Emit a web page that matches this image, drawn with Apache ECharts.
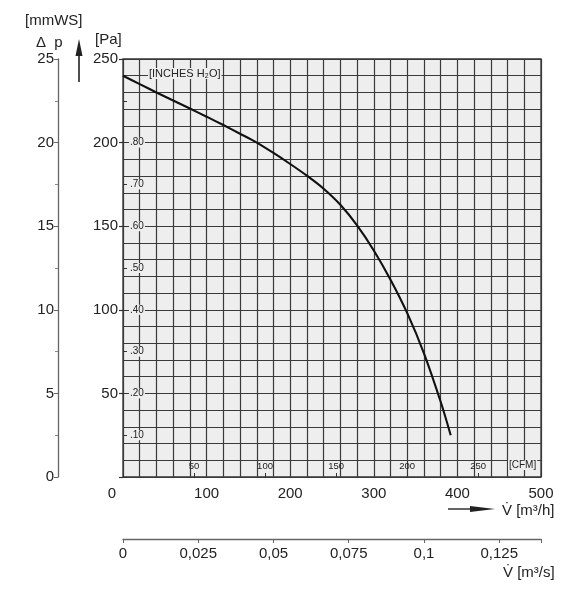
<!DOCTYPE html>
<html>
<head>
<meta charset="utf-8">
<script src="https://cdn.jsdelivr.net/npm/echarts@6/dist/echarts.min.js"></script>
<style>
html,body{margin:0;padding:0;background:#fff;}
#chart{width:583px;height:600px;}
</style>
</head>
<body>
<div id="chart"></div>
<script>
// ---- data ----
const flowM3h    = [0, 20, 40, 60, 80, 100, 120, 140, 160, 180, 200, 220, 240, 260, 280, 300, 320, 340, 360, 380, 392];
const pressurePa = [240, 235, 230, 225.2, 220.4, 215.5, 210.5, 205.3, 200, 193.8, 187.2, 180.2, 172.4, 162.8, 150.5, 135.5, 118, 98, 74, 45, 25];

const m3hTicks  = [0, 100, 200, 300, 400, 500];
const paTicks   = [50, 100, 150, 200, 250];
const mmwsTicks = [0, 5, 10, 15, 20, 25];
const inchValuesPa = [25, 50, 75, 100, 125, 150, 175, 200];
const inchLabels   = ['.10', '.20', '.30', '.40', '.50', '.60', '.70', '.80'];
const cfmTicks  = [50, 100, 150, 200, 250];
const m3sLabels = ['0', '0,025', '0,05', '0,075', '0,1', '0,125'];

const M3H_PER_CFM = 1.699;
const FONT = "'Liberation Sans', Arial, sans-serif";
const INK = '#222';
const GRIDLINE = { color: '#3a3a3a', width: 1.2 };
const PLOTBG = '#eeeeee';

const chart = echarts.init(document.getElementById('chart'), null, { renderer: 'canvas' });

const option = {
  backgroundColor: '#fff',
  animation: false,
  textStyle: { fontFamily: FONT, color: INK },
  grid: {
    left: 123, top: 59, width: 418, height: 418,
    show: true, backgroundColor: PLOTBG, borderColor: '#333', borderWidth: 1.3
  },
  xAxis: [
    { // m3/h main axis
      type: 'value', min: 0, max: 500, interval: 100, position: 'bottom',
      axisLine: { show: false, onZero: false }, axisTick: { show: false },
      axisLabel: {
        margin: 9, fontSize: 15, color: INK, fontFamily: FONT,
        formatter: v => v === 0 ? '{z|0}' : (m3hTicks.includes(v) ? String(v) : ''),
        rich: { z: { fontSize: 15, fontFamily: FONT, color: INK, padding: [0, 22, 0, 0] } }
      },
      splitLine: { show: true, lineStyle: GRIDLINE },
      minorTick: { show: false, splitNumber: 5 },
      minorSplitLine: { show: true, lineStyle: GRIDLINE }
    },
    { // CFM inside scale
      type: 'value', min: 0, max: 500 / M3H_PER_CFM, interval: 50, position: 'bottom', offset: 0,
      axisLine: { show: false, onZero: false },
      axisTick: { show: true, inside: true, length: 4, lineStyle: { color: '#333', width: 1 } },
      axisLabel: {
        inside: true, margin: 6, fontSize: 9.5, color: INK, fontFamily: FONT,
        formatter: v => cfmTicks.includes(Math.round(v)) && Math.abs(v - Math.round(v)) < 1e-6 ? String(Math.round(v)) : ''
      },
      splitLine: { show: false }
    },
    { // m3/s scale
      type: 'value', min: 0, max: 500 / 3600, interval: 0.025, position: 'bottom', offset: 62,
      axisLine: { show: true, onZero: false, lineStyle: { color: '#666', width: 1.3 } },
      axisTick: { show: true, length: 4, lineStyle: { color: '#666', width: 1 } },
      axisLabel: {
        margin: 7, fontSize: 15, color: INK, fontFamily: FONT,
        formatter: v => {
          const k = Math.round(v / 0.025);
          return Math.abs(v - k * 0.025) < 1e-9 && k < m3sLabels.length ? m3sLabels[k] : '';
        }
      },
      splitLine: { show: false }
    }
  ],
  yAxis: [
    { // Pa
      type: 'value', min: 0, max: 250, interval: 50, position: 'left',
      axisLine: { show: false, onZero: false },
      axisTick: { show: true, length: 4, lineStyle: { color: '#333', width: 1.2 } },
      axisLabel: {
        margin: 5, fontSize: 15, color: INK, fontFamily: FONT,
        formatter: v => paTicks.includes(v) ? String(v) : ''
      },
      splitLine: { show: true, lineStyle: GRIDLINE },
      minorTick: { show: false, splitNumber: 5 },
      minorSplitLine: { show: true, lineStyle: GRIDLINE }
    },
    { // mmWS
      type: 'value', min: 0, max: 25, interval: 5, position: 'left', offset: 65,
      axisLine: { show: true, onZero: false, lineStyle: { color: '#666', width: 1.3 } },
      axisTick: { show: true, length: 4, lineStyle: { color: '#666', width: 1 } },
      minorTick: { show: true, splitNumber: 2, length: 3, lineStyle: { color: '#888', width: 1 } },
      axisLabel: {
        margin: 4, fontSize: 15, color: INK, fontFamily: FONT,
        formatter: v => mmwsTicks.includes(v) ? String(v) : ''
      },
      splitLine: { show: false }
    },
    { // inches H2O (inside)
      type: 'value', min: 0, max: 250, interval: 25, position: 'left', offset: 0,
      axisLine: { show: false, onZero: false },
      axisTick: { show: true, inside: true, length: 4, lineStyle: { color: '#333', width: 1 } },
      axisLabel: {
        inside: true, margin: 6, fontSize: 10, color: INK, fontFamily: FONT,
        backgroundColor: PLOTBG, padding: [0, 1, 0, 1],
        formatter: v => {
          const i = inchValuesPa.indexOf(v);
          return i >= 0 ? inchLabels[i] : '';
        }
      },
      splitLine: { show: false }
    }
  ],
  series: [
    {
      type: 'line', xAxisIndex: 0, yAxisIndex: 0,
      data: flowM3h.map((x, i) => [x, pressurePa[i]]),
      smooth: 0.3, showSymbol: false, symbol: 'none',
      lineStyle: { color: '#111', width: 2.1 }, z: 10
    }
  ],
  graphic: [
    { type: 'text', left: 25, top: 13, style: { text: '[mmWS]', font: "15px " + FONT, fill: INK } },
    { type: 'text', left: 36, top: 35, style: { text: 'Δ  p', font: "15px " + FONT, fill: INK } },
    { type: 'line', shape: { x1: 79, y1: 82, x2: 79, y2: 52 }, style: { stroke: '#222', lineWidth: 1.6 } },
    { type: 'polygon', shape: { points: [[79, 39], [75.5, 56], [82.5, 56]] }, style: { fill: '#222' } },
    { type: 'text', left: 95, top: 32, style: { text: '[Pa]', font: "15px " + FONT, fill: INK } },
    { type: 'text', left: 148, top: 68, z: 5,
      style: { text: '[INCHES H₂O]', font: "11px " + FONT, fill: INK, backgroundColor: PLOTBG, padding: [0, 1] } },
    { type: 'text', left: 508, top: 460, z: 5,
      style: { text: '[CFM]', font: "10px " + FONT, fill: INK, backgroundColor: PLOTBG, padding: [0, 1] } },
    { type: 'line', shape: { x1: 448, y1: 509, x2: 478, y2: 509 }, style: { stroke: '#222', lineWidth: 1.4 } },
    { type: 'polygon', shape: { points: [[495, 509], [470, 506], [470, 512]] }, style: { fill: '#222' } },
    { type: 'text', left: 502, top: 503, style: { text: 'V̇ [m³/h]', font: "15px " + FONT, fill: INK } },
    { type: 'text', left: 503, top: 565, style: { text: 'V̇ [m³/s]', font: "15px " + FONT, fill: INK } }
  ]
};

chart.setOption(option);
</script>
</body>
</html>
